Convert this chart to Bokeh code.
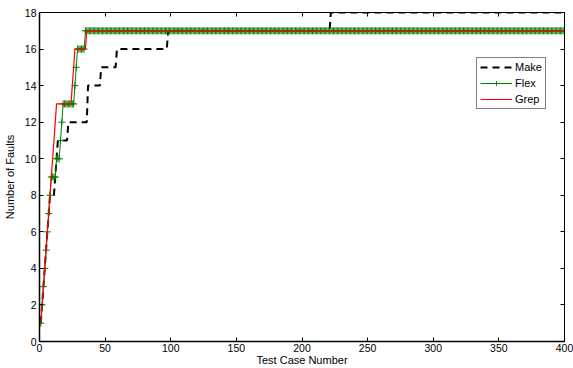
import numpy as np
from bokeh.plotting import figure
from bokeh.models import LinearAxis, Legend, LegendItem, FixedTicker, Range1d
from bokeh.embed import file_html
from bokeh.resources import INLINE

# ---- data ----
n_cases = 400
x_ticks = [0, 50, 100, 150, 200, 250, 300, 350, 400]
y_ticks = [0, 2, 4, 6, 8, 10, 12, 14, 16, 18]

# each series as runs: fault level and number of consecutive test cases at that level
make_levels = [1, 2, 3, 4, 5, 6, 7, 8, 9, 10, 11, 12, 14, 15, 16, 17, 18]
make_counts = [1, 1, 1, 1, 1, 1, 1, 4, 1, 1, 8, 15, 10, 12, 39, 124, 179]

flex_levels = [1, 2, 3, 4, 5, 6, 7, 8, 9, 10, 11, 12, 13, 14, 15, 16, 17]
flex_counts = [1, 1, 1, 1, 1, 1, 1, 1, 4, 3, 1, 1, 9, 1, 1, 6, 366]

grep_levels = [1, 2, 3, 4, 5, 6, 7, 8, 9, 10, 11, 12, 13, 14, 15, 16, 17]
grep_counts = [1, 1, 1, 1, 1, 1, 1, 1, 1, 1, 1, 1, 12, 1, 1, 9, 365]

x = np.arange(1, n_cases + 1)
make_y = np.repeat(make_levels, make_counts)
flex_y = np.repeat(flex_levels, flex_counts)
grep_y = np.repeat(grep_levels, grep_counts)

FONT = "Liberation Sans"

p = figure(width=573, height=368, output_backend="svg", toolbar_location=None,
           x_range=Range1d(0, 400), y_range=Range1d(0, 18),
           min_border_left=39, min_border_right=9, min_border_top=12, min_border_bottom=24,
           background_fill_color="white", border_fill_color="white")
p.grid.visible = False
p.outline_line_color = "black"
p.outline_line_width = 1

def style_axis(ax, labels=True):
    ax.major_tick_in = 4
    ax.major_tick_out = 0
    ax.minor_tick_in = 0
    ax.minor_tick_out = 0
    ax.major_tick_line_color = "black"
    ax.axis_line_color = "black"
    ax.major_label_text_font = FONT
    ax.major_label_text_color = "black"
    if labels:
        ax.major_label_text_font_size = "10.5px"
        ax.major_label_standoff = 3
    else:
        ax.major_label_text_font_size = "1px"
        ax.major_label_text_color = None
        ax.major_label_standoff = 0
    ax.axis_label_text_font = FONT
    ax.axis_label_text_font_size = "11px"
    ax.axis_label_text_font_style = "normal"
    ax.axis_label_text_color = "black"

xa = p.xaxis[0]
ya = p.yaxis[0]
xa.ticker = FixedTicker(ticks=x_ticks)
ya.ticker = FixedTicker(ticks=y_ticks)
style_axis(xa)
style_axis(ya)
xa.axis_line_width = 1.5
ya.axis_line_width = 1.5
xa.axis_label = "Test Case Number"
ya.axis_label = "Number of Faults"
xa.major_label_standoff = 2
xa.axis_label_standoff = -1
ya.axis_label_standoff = 6

top = LinearAxis(ticker=FixedTicker(ticks=x_ticks))
right = LinearAxis(ticker=FixedTicker(ticks=y_ticks))
style_axis(top, labels=False)
style_axis(right, labels=False)
p.add_layout(top, "above")
p.add_layout(right, "right")

r_make = p.line(x, make_y, line_color="black", line_width=2, line_dash="7 5")
r_flex_l = p.line(x, flex_y, line_color="#008000", line_width=1)
r_flex_m = p.scatter(x, flex_y, marker="cross", size=7, line_color="#008000", line_width=1)
r_grep = p.line(x, grep_y, line_color="#ff0000", line_width=1.2)

legend = Legend(items=[
    LegendItem(label="Make", renderers=[r_make]),
    LegendItem(label="Flex", renderers=[r_flex_l, r_flex_m]),
    LegendItem(label="Grep", renderers=[r_grep]),
], location=(437, 232))
legend.border_line_color = "black"
legend.border_line_width = 1
legend.background_fill_color = "white"
legend.background_fill_alpha = 1
legend.label_text_font = FONT
legend.label_text_font_size = "11px"
legend.label_text_color = "black"
legend.glyph_width = 32
legend.glyph_height = 12
legend.label_height = 12
legend.spacing = 4
legend.padding = 3
legend.margin = 0
legend.label_standoff = 3
p.add_layout(legend)

open("out.html", "w").write(file_html(p, INLINE))
